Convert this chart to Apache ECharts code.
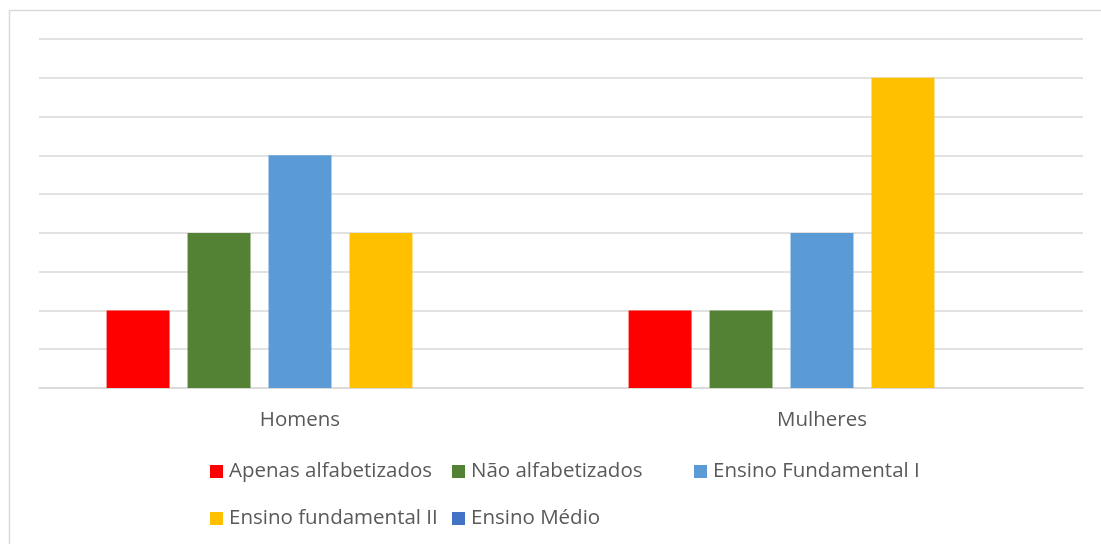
<!DOCTYPE html>
<html>
<head>
<meta charset="utf-8">
<script src="https://cdn.jsdelivr.net/npm/echarts@6/dist/echarts.min.js"></script>
<style>html,body{margin:0;padding:0;background:#fff;}#c{width:1101px;height:544px;}</style>
</head>
<body>
<div id="c"></div>
<script>
var categories = ['Homens', 'Mulheres'];
var seriesNames = ['Apenas alfabetizados', 'Não alfabetizados', 'Ensino Fundamental I', 'Ensino fundamental II', 'Ensino Médio'];
var apenasAlfabetizados = [2, 2];
var naoAlfabetizados = [4, 2];
var fundamentalI = [6, 4];
var fundamentalII = [4, 8];
var ensinoMedio = [0, 0];
var colors = ['#ff0000', '#548235', '#5b9bd5', '#ffc000', '#4472c4'];
var values = [apenasAlfabetizados, naoAlfabetizados, fundamentalI, fundamentalII, ensinoMedio];

var font = 'Open Sans';
var legendPos = [[210, 461], [452, 461], [694, 461], [210, 508], [452, 508]];

var chart = echarts.init(document.getElementById('c'), null, {renderer: 'canvas'});
chart.setOption({
  animation: false,
  backgroundColor: '#fff',
  graphic: [{
    type: 'rect', left: 7, top: 8, z: -1,
    shape: {width: 1100, height: 540},
    style: {fill: 'none', stroke: '#d9d9d9', lineWidth: 1.5}
  }],
  grid: {left: 39, right: 18, top: 39, bottom: 156},
  xAxis: {
    type: 'category', data: categories,
    axisLine: {lineStyle: {color: '#d9d9d9', width: 1.5}},
    axisTick: {show: false},
    axisLabel: {color: '#595959', fontFamily: font, fontSize: 20.5, margin: 22}
  },
  yAxis: {
    type: 'value', min: 0, max: 9, interval: 1,
    axisLabel: {show: false}, axisLine: {show: false}, axisTick: {show: false},
    splitLine: {lineStyle: {color: '#d9d9d9', width: 1.5}}
  },
  legend: seriesNames.map(function (n, i) {
    return {
      data: [n], left: legendPos[i][0], top: legendPos[i][1], padding: 0,
      icon: 'rect', itemWidth: 13, itemHeight: 13, itemGap: 6,
      textStyle: {color: '#595959', fontFamily: font, fontSize: 20.5, lineHeight: 20, padding: [0, 0, 0, 1]}
    };
  }),
  series: seriesNames.map(function (n, i) {
    return {
      name: n, type: 'bar', data: values[i],
      itemStyle: {color: colors[i]},
      barCategoryGap: '25.9%', barGap: '28.6%'
    };
  })
});
</script>
</body>
</html>
